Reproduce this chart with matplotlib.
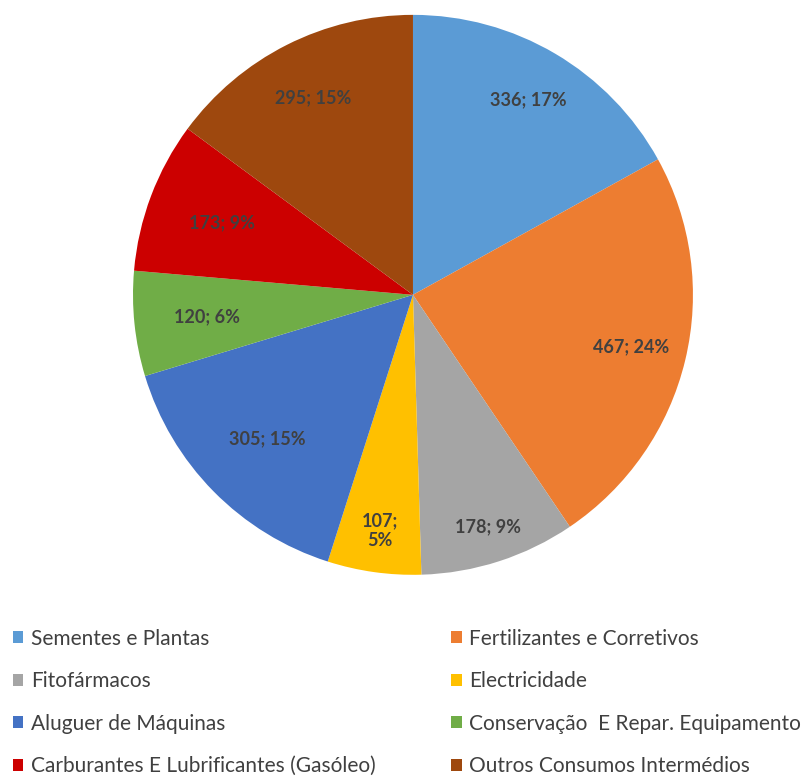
import numpy as np
import matplotlib.pyplot as plt
from matplotlib.patches import Patch

categories = [
    "Sementes e Plantas",
    "Fertilizantes e Corretivos",
    "Fitofármacos",
    "Electricidade",
    "Aluguer de Máquinas",
    "Conservação  E Repar. Equipamento",
    "Carburantes E Lubrificantes (Gasóleo)",
    "Outros Consumos Intermédios",
]
values = [336, 467, 178, 107, 305, 120, 173, 295]
colors = ["#5B9BD5", "#ED7D31", "#A5A5A5", "#FFC000",
          "#4472C4", "#70AD47", "#CC0000", "#9E480E"]
# how far out each data label sits (fraction of the radius)
label_r = [0.81, 0.80, 0.87, 0.85, 0.73, 0.74, 0.73, 0.79]

plt.rcParams["font.family"] = ["Lato", "DejaVu Sans"]

fig = plt.figure(figsize=(8.08, 7.8), dpi=100)
ax = fig.add_axes([0.1646, 0.263, 0.693, 0.718])

total = sum(values)
labels = []
for v in values:
    pct = round(100 * v / total)
    if v == 107:
        labels.append(f"{v};\n{pct}%")
    else:
        labels.append(f"{v}; {pct}%")

wedges, texts = ax.pie(values, colors=colors, startangle=90, counterclock=False,
                       labels=labels, labeldistance=0.8,
                       textprops=dict(fontsize=13, fontweight="bold", color="#404040",
                                      ha="center", va="center"))
for w, t, r in zip(wedges, texts, label_r):
    ang = np.deg2rad((w.theta1 + w.theta2) / 2)
    t.set_position((r * np.cos(ang), r * np.sin(ang)))
    t.set_horizontalalignment("center")
ax.set_xlim(-1, 1)
ax.set_ylim(-1, 1)
ax.set_aspect("equal")

# legend filled row by row, like the original
order = [0, 2, 4, 6, 1, 3, 5, 7]
handles = [Patch(facecolor=colors[i]) for i in order]
names = [categories[i] for i in order]
fig.legend(handles, names, ncol=2, loc="upper left",
           bbox_to_anchor=(0.016, 0.194), frameon=False,
           borderpad=0, borderaxespad=0,
           fontsize=15, labelcolor="#404040",
           handlelength=0.5, handleheight=0.5, handletextpad=0.35,
           labelspacing=1.08, columnspacing=3.65)

fig.savefig("out.png", dpi=100)
